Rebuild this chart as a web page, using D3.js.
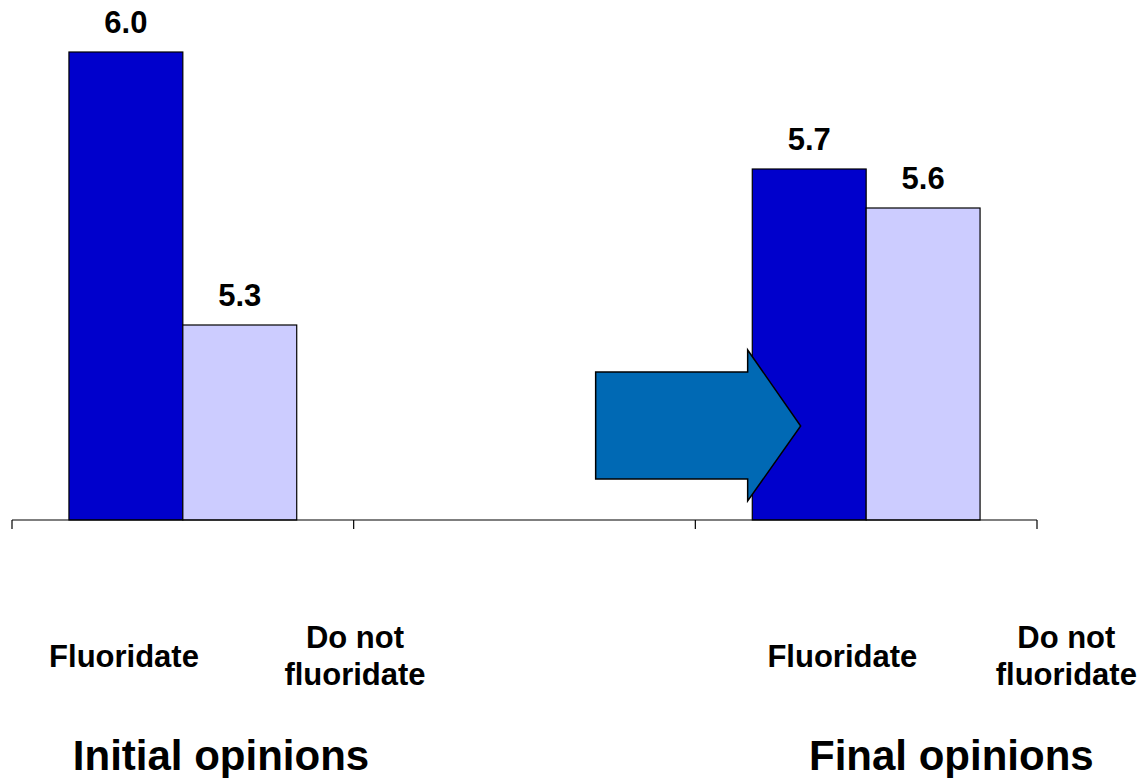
<!DOCTYPE html>
<html>
<head>
<meta charset="utf-8">
<script src="https://cdn.jsdelivr.net/npm/d3@7"></script>
<style>
  html, body { margin: 0; padding: 0; background: #ffffff; }
  svg { display: block; font-family: "Liberation Sans", Arial, sans-serif; }
</style>
</head>
<body>
<svg id="chart" width="1144" height="778"></svg>
<script>
// Opinion groups along the x axis (middle slot left empty as a spacer)
const groups = ["Initial opinions", "", "Final opinions"];
const series = ["Fluoridate", "Do not fluoridate"];
const initialValues = [6.0, 5.3];
const finalValues = [5.7, 5.6];
const valueLabels = [["6.0", "5.3"], ["5.7", "5.6"]];
const yDomain = [4.8, 6.0];

const colors = ["#0000CC", "#CCCCFF"];

const svg = d3.select("#chart");

const x = d3.scaleBand().domain(groups).range([12, 1037]).paddingInner(0).paddingOuter(0);
const y = d3.scaleLinear().domain(yDomain).range([520, 52]);
const bw = x.bandwidth();
const xInner = d3.scaleBand().domain(series).range([bw / 6, bw * 5 / 6]).padding(0);

const data = [
  { group: groups[0], values: initialValues, labels: valueLabels[0] },
  { group: groups[2], values: finalValues, labels: valueLabels[1] }
];

// Bars with value labels
const g = svg.append("g");
data.forEach(d => {
  const gx = x(d.group);
  series.forEach((s, i) => {
    g.append("rect")
      .attr("x", gx + xInner(s))
      .attr("y", y(d.values[i]))
      .attr("width", xInner.bandwidth())
      .attr("height", y(yDomain[0]) - y(d.values[i]))
      .attr("fill", colors[i])
      .attr("stroke", "#000")
      .attr("stroke-width", 1.2);
    g.append("text")
      .attr("x", gx + xInner(s) + xInner.bandwidth() / 2)
      .attr("y", y(d.values[i]) - 19)
      .attr("text-anchor", "middle")
      .attr("font-size", 31)
      .attr("font-weight", "bold")
      .attr("fill", "#000")
      .text(d.labels[i]);
  });
});

// Category axis with ticks between groups
const axisY = y(yDomain[0]);
svg.append("line")
  .attr("x1", x.range()[0]).attr("x2", x.range()[1])
  .attr("y1", axisY).attr("y2", axisY)
  .attr("stroke", "#000").attr("stroke-width", 1.2);
const tickXs = groups.map(gr => x(gr)).concat([x.range()[1]]);
svg.selectAll(".tick").data(tickXs).enter().append("line")
  .attr("x1", d => d).attr("x2", d => d)
  .attr("y1", axisY).attr("y2", axisY + 9)
  .attr("stroke", "#000").attr("stroke-width", 1.2);

// Arrow from initial to final opinions
const ax0 = x(groups[1]) + 242;
const headX = ax0 + 152;
const tipX = ax0 + 205;
const midY = 426;
const arrow = [
  [ax0, midY - 54], [headX, midY - 54], [headX, midY - 76],
  [tipX, midY], [headX, midY + 75], [headX, midY + 53], [ax0, midY + 53]
];
svg.append("path")
  .attr("d", d3.line()(arrow) + "Z")
  .attr("fill", "#0069B4")
  .attr("stroke", "#000")
  .attr("stroke-width", 1.5)
  .attr("stroke-linejoin", "miter");

// Category labels under the axis
const catLabels = [
  { gx: x(groups[0]), offsets: [112, 343] },
  { gx: x(groups[2]), offsets: [147, 371] }
];
catLabels.forEach(c => {
  svg.append("text")
    .attr("x", c.gx + c.offsets[0]).attr("y", 667)
    .attr("text-anchor", "middle").attr("font-size", 31).attr("font-weight", "bold")
    .text(series[0]);
  const t = svg.append("text")
    .attr("text-anchor", "middle").attr("font-size", 31).attr("font-weight", "bold");
  t.append("tspan").attr("x", c.gx + c.offsets[1]).attr("y", 648).text("Do not");
  t.append("tspan").attr("x", c.gx + c.offsets[1]).attr("y", 685).text("fluoridate");
});

// Group titles
const titleOffsets = [209, 256];
[groups[0], groups[2]].forEach((gr, i) => {
  svg.append("text")
    .attr("x", x(gr) + titleOffsets[i]).attr("y", 770)
    .attr("text-anchor", "middle").attr("font-size", 42).attr("font-weight", "bold")
    .text(gr);
});
</script>
</body>
</html>
